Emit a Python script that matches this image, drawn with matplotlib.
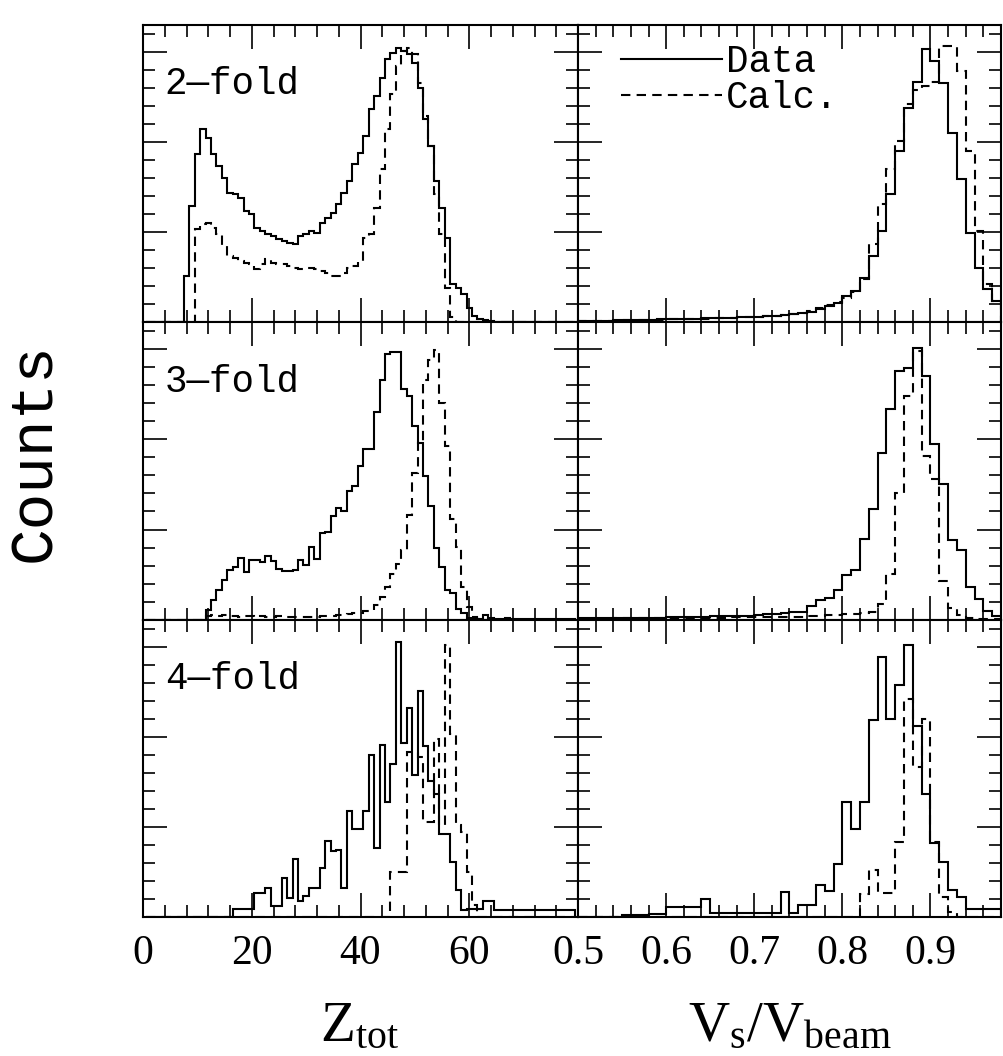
import numpy as np
import matplotlib.pyplot as plt
from matplotlib.ticker import MultipleLocator, FixedLocator

plt.rcParams['mathtext.fontset'] = 'custom'
plt.rcParams['mathtext.rm'] = 'Liberation Serif'
plt.rcParams['mathtext.it'] = 'Liberation Serif:italic'

DPI = 100
FIGSIZE_X = 1004
FIGSIZE_Y = 1056

# ------ data ------------------------------------------------------------------

# Z_tot: bins of width 1, centred on Z = 1 .. 79
z_edges = np.arange(0.5, 80.0, 1.0)
# V_s/V_beam: bins of width 0.01 from 0.50 to 0.98
v_edges = np.round(np.arange(0.50, 0.9801, 0.01), 2)

# counts (arbitrary units), Z = 1 .. 79
fold2_data = [0] * 7 + [
    46, 116, 168, 193, 184, 168, 156, 144, 129, 128,      # Z = 8 .. 17
    124, 111, 108, 94, 91, 88, 86, 83, 81, 79,            # 18 .. 27
    78, 86, 88, 91, 89, 99, 104, 109, 118, 129,           # 28 .. 37
    141, 158, 169, 186, 213, 226, 244, 263, 269, 274,     # 38 .. 47
    271, 268, 259, 234, 203, 176, 141, 114, 84, 38,       # 48 .. 57
    34, 28, 14, 6, 3, 2, 1] + [0] * 15
fold2_calc = [0] * 9 + [
    93, 98, 99, 94, 88, 76, 66, 64, 61, 59,               # Z = 10 .. 19
    58, 53, 58, 63, 59, 58, 58, 56, 54, 53,               # 20 .. 29
    54, 54, 53, 51, 49, 46, 46, 49, 54, 56,               # 30 .. 39
    61, 84, 88, 114, 153, 193, 228, 256, 271, 274,        # 40 .. 49
    268, 239, 206, 176, 128, 88, 34, 5] + [0] * 22

fold3_data = [0] * 11 + [
    10, 20, 30, 40, 50, 53, 62, 48, 60, 60,               # Z = 12 .. 21
    58, 64, 59, 51, 49, 49, 50, 60, 55, 73,               # 22 .. 31
    61, 87, 88, 103, 111, 108, 128, 133, 153, 170,        # 32 .. 41
    170, 207, 239, 265, 267, 267, 230, 223, 193, 176,     # 42 .. 51
    143, 113, 72, 53, 30, 27, 11, 7, 2, 2,                # 52 .. 61
    1, 5, 2, 1, 1, 2, 1, 1, 1, 1,                         # 62 .. 71
    1, 1, 1, 1, 1, 1, 1, 1]
fold3_calc = [0] * 11 + [
    4, 5, 4, 5, 4, 4, 3, 4, 4, 3,                         # Z = 12 .. 21
    4, 3, 3, 4, 3, 3, 3, 3, 3, 3,                         # 22 .. 31
    3, 4, 4, 4, 5, 5, 6, 7, 7, 9,                         # 32 .. 41
    10, 15, 23, 33, 46, 56, 70, 104, 146, 176,            # 42 .. 51
    239, 259, 269, 216, 173, 100, 73, 33, 13, 3,          # 52 .. 61
    1] + [0] * 17

fold4_data = [0] * 16 + [
    8, 8, 8, 8, 24, 24, 29, 11, 11, 39,                   # Z = 17 .. 26
    19, 58, 16, 21, 29, 29, 49, 76, 66, 67,               # 27 .. 36
    29, 106, 88, 88, 106, 162, 69, 172, 115, 153,         # 37 .. 46
    275, 174, 209, 142, 226, 171, 136, 123, 83, 83,       # 47 .. 56
    55, 27, 7, 8, 8, 8, 16, 16, 7, 7,                     # 57 .. 66
    7, 7, 7, 7, 7, 7, 7, 7, 7, 7, 7, 7, 7]
fold4_calc = [0] * 45 + [
    45, 45, 45, 165, 165, 160, 95, 95, 178, 92,           # Z = 46 .. 55
    272, 183, 92, 85, 45, 12] + [0] * 18

# counts (arbitrary units), V_s/V_beam lower bin edge 0.50 .. 0.97
v2_data = [1, 1, 1, 1, 2, 2, 2, 2, 2, 3,
           3, 3, 3, 3, 4, 4, 4, 4, 5, 5,
           5, 6, 6, 7, 8, 9, 10, 13, 16, 19,
           26, 31, 44, 66, 91, 128, 171, 214, 240, 273,
           261, 239, 189, 143, 89, 54, 33, 21]
v2_calc = [1, 1, 1, 1, 1, 2, 2, 2, 2, 2,
           3, 3, 3, 3, 3, 4, 4, 4, 5, 5,
           5, 6, 6, 7, 8, 9, 11, 14, 17, 20,
           24, 30, 43, 78, 118, 153, 181, 218, 232, 236,
           240, 276, 276, 251, 171, 91, 38, 21]

v3_data = [2, 2, 2, 2, 2, 2, 2, 2, 2, 2,
           3, 3, 3, 3, 3, 4, 4, 4, 4, 4,
           5, 6, 6, 7, 8, 8, 14, 20, 22, 30,
           45, 50, 81, 110, 166, 210, 248, 251, 271, 243,
           175, 135, 80, 70, 33, 21, 9, 4]
v3_calc = [1, 1, 1, 1, 2, 2, 2, 2, 2, 2,
           2, 2, 2, 2, 2, 2, 2, 3, 3, 3,
           3, 3, 3, 3, 3, 3, 4, 4, 5, 5,
           6, 6, 7, 8, 16, 46, 126, 223, 268, 163,
           140, 39, 12, 5, 2, 1, 1, 1]

v4_data = [0, 0, 0, 0, 0, 2, 2, 2, 3, 3,
           10, 10, 10, 10, 18, 4, 4, 4, 4, 4,
           4, 4, 4, 25, 4, 12, 12, 32, 26, 53,
           115, 88, 115, 197, 260, 198, 232, 272, 191, 123,
           74, 55, 27, 20, 8, 8, 8, 8]
v4_calc = [0] * 32 + [
           23, 47, 24, 24, 75, 218, 150, 198,
           75, 20, 5, 0, 0, 0, 0, 0]

fold_names = ["2\u2014fold", "3\u2014fold", "4\u2014fold"]
z_ticks = [0, 20, 40, 60]
v_ticks = [0.5, 0.6, 0.7, 0.8, 0.9]

# ------ figure ----------------------------------------------------------------

MONO = 'Liberation Mono'
SERIF = 'Liberation Serif'
LW = 1.5
DASH = (0, (4.5, 3))

fig = plt.figure(figsize=(FIGSIZE_X/DPI, FIGSIZE_Y/DPI), dpi=DPI)

left_x, left_w = 143/FIGSIZE_X, 435/FIGSIZE_X
right_x, right_w = 578/FIGSIZE_X, 423/FIGSIZE_X
top_px, row_px = 25, 297.3


def style_axes(ax, xlim, major, minor, labels):
    ax.set_xlim(*xlim)
    ax.set_ylim(0, 297)
    ax.xaxis.set_major_locator(FixedLocator(major))
    ax.xaxis.set_minor_locator(MultipleLocator(minor))
    ax.yaxis.set_major_locator(MultipleLocator(90))
    ax.yaxis.set_minor_locator(MultipleLocator(18))
    ax.tick_params(which='both', direction='in', top=True, right=True,
                   labelleft=False, labelbottom=labels, width=1.2,
                   labelsize=30, pad=13)
    ax.tick_params(which='major', length=17)
    ax.tick_params(which='minor', length=8.5)
    for lab in ax.get_xticklabels():
        lab.set_family(SERIF)
    for s in ax.spines.values():
        s.set_linewidth(1.5)


rows = [
    (fold2_data, fold2_calc, v2_data, v2_calc),
    (fold3_data, fold3_calc, v3_data, v3_calc),
    (fold4_data, fold4_calc, v4_data, v4_calc),
]

for i, (zd, zc, vd, vc) in enumerate(rows):
    bottom = 1 - (top_px + row_px*(i + 1))/FIGSIZE_Y
    height = row_px/FIGSIZE_Y
    last = (i == len(rows) - 1)

    ax_z = fig.add_axes([left_x, bottom, left_w, height])
    ax_z.stairs(zd, z_edges, color='k', lw=LW)
    ax_z.stairs(zc, z_edges, color='k', lw=LW, ls=DASH)
    style_axes(ax_z, (0, 80), z_ticks, 4, last)
    ax_z.text(0.05, 0.80, fold_names[i], transform=ax_z.transAxes,
              fontsize=27, family=MONO, va='center', ha='left')

    ax_v = fig.add_axes([right_x, bottom, right_w, height])
    ax_v.stairs(vd, v_edges, color='k', lw=LW, label='Data')
    ax_v.stairs(vc, v_edges, color='k', lw=LW, ls=DASH, label='Calc.')
    style_axes(ax_v, (0.5, 0.98), v_ticks, 0.02, last)

    if i == 0:
        leg = ax_v.legend(loc='upper left', bbox_to_anchor=(0.04, 1.025),
                          frameon=False, handlelength=2.7, handletextpad=0.1,
                          labelspacing=0.0, borderpad=0.2,
                          prop={'family': MONO, 'size': 27})
        for h in leg.get_lines():
            h.set_linewidth(LW)

fig.text(0.034, 0.572, 'Counts', rotation=90, fontsize=44, family=MONO,
         ha='center', va='center')
fig.text(0.3586, 0.029, r'$\mathrm{Z_{tot}}$', fontsize=41,
         ha='center', va='center')
fig.text(0.787, 0.029, r'$\mathrm{V_s/V_{beam}}$', fontsize=41,
         ha='center', va='center')

plt.savefig('out.png', dpi=DPI)
plt.close()
